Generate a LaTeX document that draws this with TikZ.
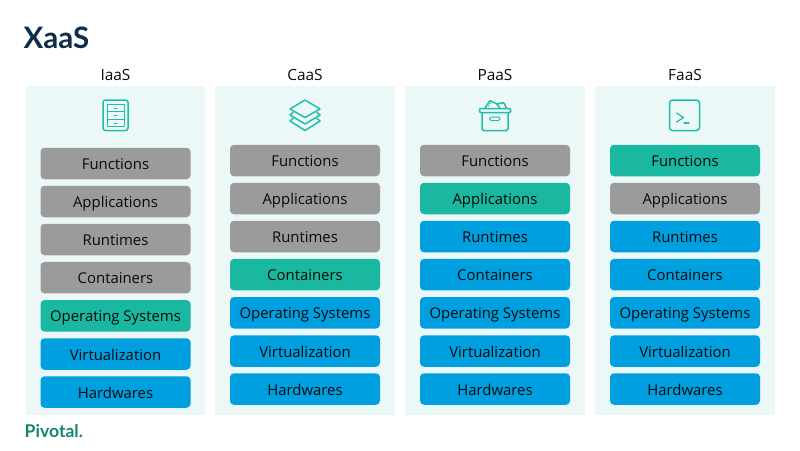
\documentclass[tikz,border=0pt]{standalone}
\usepackage{fontspec}
\setmainfont{Open Sans}
\newfontfamily\titlefont{Lato}
\definecolor{panel}{HTML}{ECF8F8}
\definecolor{grayb}{HTML}{9B9B9B}
\definecolor{tealb}{HTML}{1AB8A0}
\definecolor{blueb}{HTML}{00A0E0}
\definecolor{titlec}{HTML}{0F2D48}
\definecolor{pivc}{HTML}{12876F}
\definecolor{icon}{HTML}{1FBFA8}
\definecolor{ink}{HTML}{0A0A0A}
\tikzset{x=1pt,y=-1pt,
  layer/.style={draw=none,rounded corners=4pt,minimum width=150pt,minimum height=31.5pt,inner sep=0pt,text=ink,text height=13pt,text depth=1pt,font=\fontsize{14.9}{18}\selectfont},
  g/.style={layer,fill=grayb},
  t/.style={layer,fill=tealb},
  b/.style={layer,fill=blueb},
  panelbox/.style={fill=panel,draw=none,minimum width=179.5pt,minimum height=329.5pt,inner sep=0pt},
  head/.style={anchor=base,font=\fontsize{15.4}{17}\selectfont,text=ink,inner sep=0pt},
  ic/.style={draw=icon,line width=1.5pt,line join=round,line cap=round,fill=none},
  ict/.style={draw=icon,line width=1pt,line join=round,line cap=round,fill=none}}
\begin{document}
\begin{tikzpicture}
\useasboundingbox (0,0) rectangle (800,450);
\fill[white] (0,0) rectangle (800,450);
\node[anchor=west,inner sep=0pt,text=titlec,font=\fontsize{29.5}{30}\titlefont\bfseries] (title) at (23.5,37.5) {XaaS};
% panels
\node[panelbox] (p1) at (115.5,250.5) {};
\node[panelbox] (p2) at (305,250.5) {};
\node[panelbox] (p3) at (495,250.5) {};
\node[panelbox] (p4) at (685,250.5) {};
\node[head] (h1) at (115.5,80.5) {IaaS};
\node[head] (h2) at (305,80.5) {CaaS};
\node[head] (h3) at (495,80.5) {PaaS};
\node[head] (h4) at (685,80.5) {FaaS};
% IaaS
\node[g] (a1) at (115.5,163.5) {Functions};
\node[g] (a2) at (115.5,201.5) {Applications};
\node[g] (a3) at (115.5,239.5) {Runtimes};
\node[g] (a4) at (115.5,277.7) {Containers};
\node[t] (a5) at (115.5,315.8) {Operating Systems};
\node[b] (a6) at (115.5,354) {Virtualization};
\node[b] (a7) at (115.5,392) {Hardwares};
% CaaS
\node[g] (b1) at (305,160.5) {Functions};
\node[g] (b2) at (305,198.5) {Applications};
\node[g] (b3) at (305,236.5) {Runtimes};
\node[t] (b4) at (305,274.7) {Containers};
\node[b] (b5) at (305,312.8) {Operating Systems};
\node[b] (b6) at (305,351) {Virtualization};
\node[b] (b7) at (305,389) {Hardwares};
% PaaS
\node[g] (c1) at (495,160.5) {Functions};
\node[t] (c2) at (495,198.5) {Applications};
\node[b] (c3) at (495,236.5) {Runtimes};
\node[b] (c4) at (495,274.7) {Containers};
\node[b] (c5) at (495,312.8) {Operating Systems};
\node[b] (c6) at (495,351) {Virtualization};
\node[b] (c7) at (495,389) {Hardwares};
% FaaS
\node[t] (d1) at (685,160.5) {Functions};
\node[g] (d2) at (685,198.5) {Applications};
\node[b] (d3) at (685,236.5) {Runtimes};
\node[b] (d4) at (685,274.7) {Containers};
\node[b] (d5) at (685,312.8) {Operating Systems};
\node[b] (d6) at (685,351) {Virtualization};
\node[b] (d7) at (685,389) {Hardwares};
% cabinet icon
\draw[ic,rounded corners=2.5pt] (103,100) rectangle (128,130.5);
\draw[ict] (107,104) rectangle (124,126.5);
\draw[ict] (107,111.5) -- (124,111.5) (107,119) -- (124,119);
\draw[ict] (114,108) -- (117,108) (114,115.8) -- (117,115.8) (114,123) -- (117,123);
% layers icon
\draw[ic] (305,100) -- (320,109) -- (305,117.5) -- (290,109) -- cycle;
\draw[ic] (293,112.5) -- (290,115) -- (305,124) -- (320,115) -- (317,112.5);
\draw[ic] (293,118.5) -- (290,121) -- (305,130.5) -- (320,121) -- (317,118.5);
% box icon
\draw[ic,rounded corners=1pt] (479.5,108.5) rectangle (510.5,112.5);
\draw[ic,rounded corners=1.5pt] (482,112.5) -- (482,130.5) -- (508,130.5) -- (508,112.5);
\draw[ict,rounded corners=1.5pt] (489.5,117) rectangle (500,120.5);
\draw[ic,rounded corners=1pt] (484.5,108.5) -- (490,100.5) -- (497,104) -- (500,108.5);
\draw[ic,rounded corners=1pt] (497,104) -- (504,102.5) -- (506.5,108.5);
\draw[ict] (488,106) -- (489,105) (490,103.5) -- (491,103);
% terminal icon
\draw[ic,rounded corners=3pt] (669.5,100) rectangle (699.5,130.5);
\draw[ict,line width=1.2pt] (676.5,113) -- (683.5,117.5) -- (676.5,122);
\draw[ict,line width=1.2pt] (684,123) -- (689,123);
% logo
\node[anchor=base west,inner sep=0pt,text=pivc,font=\fontsize{17.6}{20}\titlefont\bfseries] (logo) at (24.5,437.5) {Pivotal.};
\end{tikzpicture}
\end{document}
